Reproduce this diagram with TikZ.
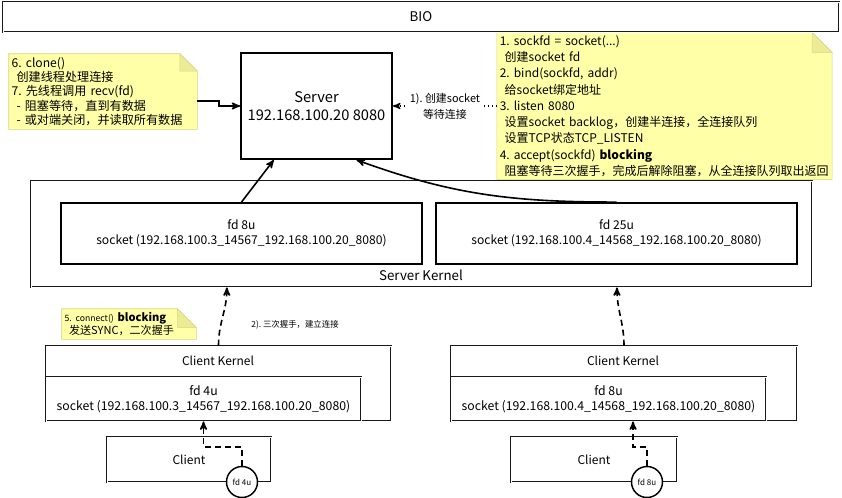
\documentclass[tikz,border=0pt]{standalone}
\usepackage{fontspec}
\setmainfont{Noto Sans CJK SC}
\usetikzlibrary{positioning,calc,arrows,backgrounds}
\definecolor{notefill}{RGB}{255,255,168}
\definecolor{noteline}{RGB}{214,214,130}
\definecolor{notefold}{RGB}{236,236,150}
\frenchspacing
\tikzset{post/.style={->,>=stealth',line width=1.2pt},
         dashpost/.style={->,>=stealth',line width=1.2pt,dash pattern=on 4.5pt off 3pt},
         dotpost/.style={->,>=stealth',line width=1pt,dotted},
         frame/.style={draw=black!90,double,double distance=0.55pt,line width=0.65pt,fill=white,inner sep=0pt},
         solidbox/.style={draw,line width=1.4pt,fill=white,inner sep=0pt,align=center},
         notebox/.style={inner sep=2pt,align=left},
         fdcirc/.style={circle,draw,line width=1.1pt,fill=white,minimum size=23.25pt,inner sep=0pt,font=\fontsize{6}{7}\selectfont}
}
\newcommand\dognote[2]{% node name, fold size
  \begin{scope}[on background layer]
    \draw[noteline,fill=notefill] (#1.north west) -- ([xshift=-#2]#1.north east)
      -- ([yshift=-#2]#1.north east) -- (#1.south east) -- (#1.south west) -- cycle;
    \draw[noteline,fill=notefold] ([xshift=-#2]#1.north east) -- ([xshift=-#2,yshift=-#2]#1.north east)
      -- ([yshift=-#2]#1.north east) -- cycle;
  \end{scope}
}

\begin{document}
\begin{tikzpicture}[x=0.75pt,y=0.75pt]
       \useasboundingbox (0,0) rectangle (842,-497);
       \node[frame, minimum width=627pt, minimum height=22.5pt, font=\fontsize{10}{12}\selectfont] (bio) at (421,-17) {BIO};
       % server process
       \node[solidbox, minimum width=113.25pt, minimum height=79.5pt, font=\fontsize{11}{13.5}\selectfont] (server) at (316.5,-106) {Server\\192.168.100.20 8080};
       \node[notebox, text width=137pt, minimum height=56.25pt, font=\fontsize{9.1}{10.7}\selectfont] (recv) at (103,-91.5)
         {6. clone()\\\hspace*{0.4em}创建线程处理连接\\7. 先线程调用 recv(fd)\\\hspace*{0.4em}- 阻塞等待，直到有数据\\\hspace*{0.4em}- 或对端关闭，并读取所有数据};
       \dognote{recv}{13pt}
       \node[notebox, text width=247pt, minimum height=102pt, font=\fontsize{9}{12.2}\selectfont] (accept) at (664.5,-106)
         {1. sockfd = socket(...)\\\hspace*{0.4em}创建socket fd\\2. bind(sockfd, addr)\\\hspace*{0.4em}给socket绑定地址\\3. listen 8080\\\hspace*{0.4em}设置socket backlog，创建半连接，全连接队列\\\hspace*{0.4em}设置TCP状态TCP\_LISTEN\\4. accept(sockfd) \textbf{blocking}\\\hspace*{0.4em}阻塞等待三次握手，完成后解除阻塞，从全连接队列取出返回};
       \dognote{accept}{15pt}
       % server kernel
       \node[frame, minimum width=585.75pt, minimum height=79.5pt] (skernel) at (421.5,-234) {};
       \node[font=\fontsize{10}{12}\selectfont] (sklabel) at (421,-275) {Server Kernel};
       \node[solidbox, minimum width=270.75pt, minimum height=45.75pt, font=\fontsize{9.1}{11.5}\selectfont] (sfd8) at (241.5,-233.5)
         {fd 8u\\socket (192.168.100.3\_14567\_192.168.100.20\_8080)};
       \node[solidbox, minimum width=270.75pt, minimum height=45.75pt, font=\fontsize{9.1}{11.5}\selectfont] (sfd25) at (616.5,-233.5)
         {fd 25u\\socket (192.168.100.4\_14568\_192.168.100.20\_8080)};
       \node[notebox, text width=96.5pt, minimum height=22.5pt, font=\fontsize{8.3}{10}\selectfont] (conn) at (129,-324)
         {{\fontsize{6.5}{8}\selectfont 5. connect()} \textbf{blocking}\\\hspace*{0.4em}发送SYNC，二次握手};
       \dognote{conn}{14pt}
       \node[font=\fontsize{6.3}{8}\selectfont] (shake) at (295,-325) {2). 三次握手，建立连接};
       % client 1
       \node[frame, minimum width=258.75pt, minimum height=56.25pt] (ckl) at (218.5,-383.5) {};
       \node[font=\fontsize{9}{11}\selectfont] (ckllabel) at (218,-361) {Client Kernel};
       \node[frame, minimum width=236.25pt, minimum height=33pt, align=center, font=\fontsize{9.2}{11.2}\selectfont] (cfd4) at (203.5,-399)
         {fd 4u\\socket (192.168.100.3\_14567\_192.168.100.20\_8080)};
       \node[frame, minimum width=123pt, minimum height=33.75pt, font=\fontsize{9}{11}\selectfont] (clientl) at (189,-459.5) {Client};
       \node[fdcirc] (cfdl) at (242,-482) {fd 4u};
       % client 2
       \node[frame, minimum width=259.5pt, minimum height=56.25pt] (ckr) at (624,-383.5) {};
       \node[font=\fontsize{9}{11}\selectfont] (ckrlabel) at (623,-361) {Client Kernel};
       \node[frame, minimum width=236.25pt, minimum height=33pt, align=center, font=\fontsize{9.2}{11.2}\selectfont] (cfd8) at (608.5,-399)
         {fd 8u\\socket (192.168.100.4\_14568\_192.168.100.20\_8080)};
       \node[frame, minimum width=124.5pt, minimum height=33.75pt, font=\fontsize{9}{11}\selectfont] (clientr) at (594,-459.5) {Client};
       \node[fdcirc] (cfdr) at (647,-482) {fd 8u};
       % connectors
       \draw[post] ([yshift=-7pt]recv.east) -- ++(16.5pt,0) |- (server.west);
       \draw[dotpost] (accept.west) -- node[fill=white, inner sep=1pt, align=center, font=\fontsize{8.2}{12}\selectfont] (create) {1). 创建socket\\等待连接} (server.east);
       \draw[post] (sfd8.north) -- ([xshift=-32pt]server.south);
       \draw[post] (sfd25.north) to[out=180,in=-20] ([xshift=30pt]server.south);
       \draw[dashpost] (ckl.north) to[out=90,in=-90] ([xshift=-146pt]skernel.south);
       \draw[dashpost] (ckr.north) to[out=90,in=-90] ([xshift=146.6pt]skernel.south);
       \draw[dashpost] (cfdl.north) -- ++(0,14.25pt) -| (cfd4.south);
       \draw[dashpost] (cfdr.north) -- ++(0,14.25pt) -| ([xshift=18.4pt]cfd8.south);
\end{tikzpicture}
\end{document}
